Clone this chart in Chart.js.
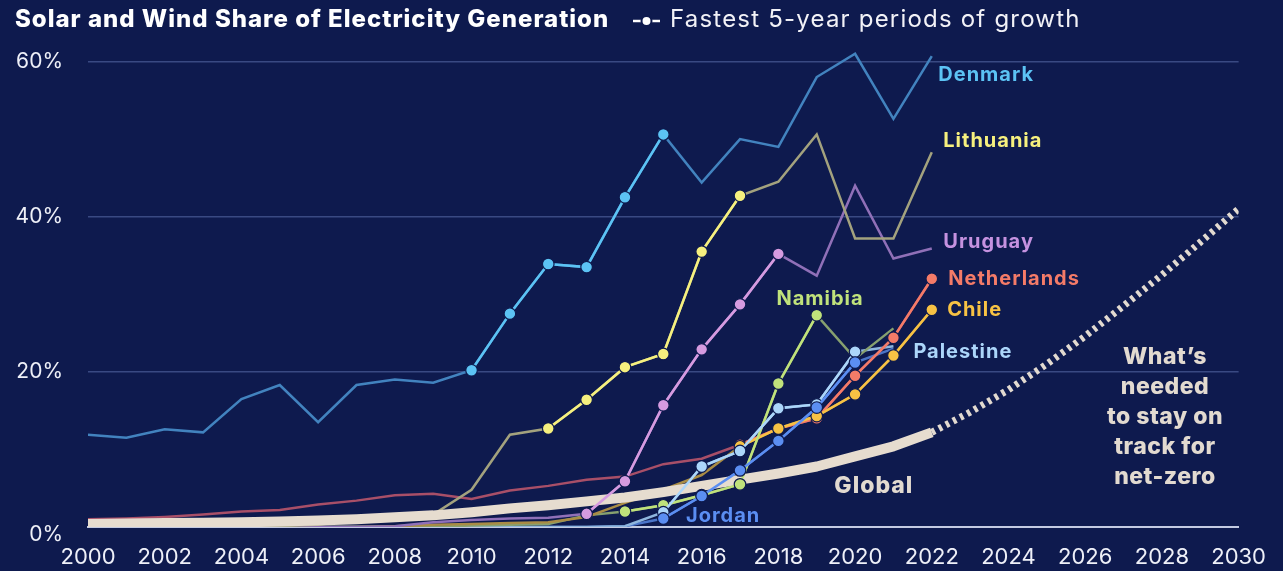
<!DOCTYPE html>
<html><head><meta charset="utf-8">
<script src="https://cdn.jsdelivr.net/npm/chart.js@4.4.1/dist/chart.umd.min.js"></script>
<style>html,body{margin:0;padding:0;background:#0e1a4e;}canvas{display:block}</style>
</head><body>
<canvas id="c" width="1283" height="571"></canvas>
<script>
const years = [2000,2001,2002,2003,2004,2005,2006,2007,2008,2009,2010,2011,2012,2013,2014,2015,2016,2017,2018,2019,2020,2021,2022];
const denmark     = [11.9,11.5,12.6,12.2,16.5,18.3,13.5,18.3,19.0,18.6,20.2,27.5,33.9,33.5,42.5,50.6,44.4,50.0,49.0,58.0,61.0,52.6,60.7];
const lithuania   = [0,0,0,0,0,0.1,0.3,0.9,1.0,1.6,4.8,11.9,12.7,16.4,20.6,22.3,35.5,42.7,44.5,50.6,37.2,37.2,48.3];
const uruguay     = [0,0,0,0,0,0,0,0,0.1,0.6,0.9,1.1,1.2,1.7,5.9,15.7,22.9,28.7,35.2,32.4,44.0,34.6,35.9];
const netherlands = [1.0,1.1,1.3,1.6,2.0,2.2,2.9,3.4,4.1,4.3,3.6,4.7,5.3,6.1,6.5,8.1,8.8,10.6,12.7,14.0,19.5,24.4,32.0];
const chile       = [0,0,0,0,0,0,0,0,0.1,0.3,0.4,0.5,0.6,1.3,3.1,4.8,6.7,10.4,12.7,14.3,17.1,22.1,28.0];
const namibia     = [0,0,0,0,0,0,0,0,0,0,0.2,0.3,0.4,1.5,2.0,2.8,4.1,5.5,18.5,27.3,21.7,25.6,null];
const palestine   = [0,0,0,0,0,0,0,0,0,0,0,0,0,0,0.1,1.9,7.8,9.8,15.3,15.8,22.6,23.3,null];
const jordan      = [0,0,0,0,0,0,0,0,0,0,0,0,0,0,0.1,1.1,4.0,7.3,11.1,15.4,21.2,23.0,null];
const globalShare = [0.4,0.45,0.5,0.55,0.6,0.7,0.85,1.0,1.25,1.5,1.9,2.4,2.8,3.3,3.8,4.5,5.3,6.1,6.9,7.8,9.1,10.4,12.2];
const projYears   = [2022,2023,2024,2025,2026,2027,2028,2029,2030];
const projection  = [12.2,14.8,17.7,21.0,24.6,28.5,32.5,36.7,41.0];
const xTickLabels = [2000,2002,2004,2006,2008,2010,2012,2014,2016,2018,2020,2022,2024,2026,2028,2030];
const yTickValues = [0,20,40,60];

const BG = '#0e1a4e';
const FONT = 'Inter, "Open Sans", sans-serif';

const series = [
  {name:'Denmark',     data:denmark,     muted:'#4283bf', bright:'#5cc3f4', hl:[2010,2015], lx:2022.17, ly:58.2},
  {name:'Lithuania',   data:lithuania,   muted:'#a3a27e', bright:'#f6f07e', hl:[2012,2017], lx:2022.30, ly:49.8},
  {name:'Uruguay',     data:uruguay,     muted:'#9070b8', bright:'#d69be0', hl:[2013,2018], lx:2022.30, ly:36.7, color:'#c592e0'},
  {name:'Netherlands', data:netherlands, muted:'#a84f68', bright:'#f47b68', hl:[2017,2022], lx:2022.43, ly:32.0},
  {name:'Chile',       data:chile,       muted:'#a98c45', bright:'#f7c244', hl:[2017,2022], lx:2022.40, ly:28.0},
  {name:'Namibia',     data:namibia,     muted:'#87a06f', bright:'#c0e27b', hl:[2014,2019], lx:2017.95, ly:29.4},
  {name:'Palestine',   data:palestine,   muted:'#8fb6de', bright:'#acd6fa', hl:[2015,2020], lx:2021.52, ly:22.6},
  {name:'Jordan',      data:jordan,      muted:'#4a74c8', bright:'#5b8ef2', hl:[2015,2020], lx:2015.59, ly:1.4}
];

const pts = (xs, ys, f) => xs.map((x,i)=>({x:x, y:ys[i]})).filter(p => p.y !== null && (!f || f(p.x)));

const datasets = [];
series.forEach(s => datasets.push({
  data: pts(years, s.data), borderColor: s.muted, borderWidth: 2.5, pointRadius: 0, order: 3, tension: 0
}));
datasets.push({data: pts(years, globalShare), borderColor:'#e6dccf', borderWidth:10, pointRadius:0, order:2, borderCapStyle:'butt', borderJoinStyle:'round'});
datasets.push({data: pts(projYears, projection), borderColor:'#e2dad0', borderWidth:7, borderDash:[3.5,4.5], pointRadius:0, order:2, borderCapStyle:'butt'});
series.slice().reverse().forEach(s => datasets.push({
  data: pts(years, s.data, x => x >= s.hl[0] && x <= s.hl[1]),
  borderColor: s.bright, backgroundColor: s.bright, borderWidth: 2.5,
  pointRadius: 5.8, pointBorderColor: BG, pointBorderWidth: 1.2, order: 1
}));

const textPlugin = {
  id: 'texts',
  afterDraw(chart) {
    const {ctx, scales:{x, y}} = chart;
    ctx.save();
    ctx.textBaseline = 'middle';
    // y tick labels (0% sits a little below its line in the original)
    ctx.fillStyle = '#eef0f8';
    ctx.font = `400 21px ${FONT}`;
    ctx.textAlign = 'right';
    yTickValues.forEach(v => ctx.fillText(v + '%', x.left - 25, y.getPixelForValue(v) + (v === 0 ? 8 : 0)));
    // title
    ctx.textAlign = 'left';
    ctx.fillStyle = '#ffffff';
    ctx.font = `800 24px ${FONT}`;
    ctx.letterSpacing = '1px';
    ctx.fillText('Solar and Wind Share of Electricity Generation', 15, 20);
    // legend symbol
    ctx.strokeStyle = '#ffffff'; ctx.lineWidth = 2.5;
    ctx.beginPath(); ctx.moveTo(633, 21); ctx.lineTo(660, 21); ctx.stroke();
    ctx.fillStyle = '#ffffff'; ctx.strokeStyle = BG; ctx.lineWidth = 2;
    ctx.beginPath(); ctx.arc(646.5, 21, 5, 0, Math.PI*2); ctx.fill(); ctx.stroke();
    ctx.fillStyle = '#f2f2f7';
    ctx.font = `400 24px ${FONT}`;
    ctx.letterSpacing = '1.2px';
    ctx.fillText('Fastest 5-year periods of growth', 670, 20);
    // country labels
    ctx.font = `700 20px ${FONT}`;
    ctx.letterSpacing = '1px';
    series.forEach(s => {
      ctx.fillStyle = s.color || s.bright;
      ctx.fillText(s.name, x.getPixelForValue(s.lx), y.getPixelForValue(s.ly));
    });
    ctx.font = `800 23px ${FONT}`;
    ctx.fillStyle = '#e2dad0';
    ctx.fillText('Global', x.getPixelForValue(2019.46), y.getPixelForValue(5.3));
    ctx.textAlign = 'center';
    ctx.letterSpacing = '0.5px';
    const lines = ['What\u2019s','needed','to stay on','track for','net-zero'];
    const cx = x.getPixelForValue(2028.08);
    lines.forEach((t,i) => ctx.fillText(t, cx, 357 + i*30));
    ctx.restore();
  }
};

new Chart(document.getElementById('c'), {
  type: 'line',
  data: {datasets},
  plugins: [textPlugin],
  options: {
    responsive:false, animation:false, events:[],
    layout:{padding:{left:0,right:42,top:46,bottom:0}},
    plugins:{legend:{display:false}, tooltip:{enabled:false}, title:{display:false}},
    scales:{
      x:{type:'linear', min:2000, max:2030,
        afterFit(s){ s.height = 44; },
        afterBuildTicks(s){ s.ticks = xTickLabels.map(v=>({value:v})); },
        ticks:{color:'#eef0f8', font:{family:FONT, size:22}, padding:17, maxRotation:0, autoSkip:false, callback:v=>String(v)},
        grid:{display:false, drawTicks:false},
        border:{display:true, color:'#c3cae2', width:2}
      },
      y:{type:'linear', min:0, max:62,
        afterFit(s){ s.width = 88; },
        afterBuildTicks(s){ s.ticks = yTickValues.map(v=>({value:v})); },
        ticks:{display:false},
        grid:{color:'rgba(110,130,195,0.45)', lineWidth:1.5, drawTicks:false},
        border:{display:false}
      }
    }
  }
});
</script>
</body></html>
